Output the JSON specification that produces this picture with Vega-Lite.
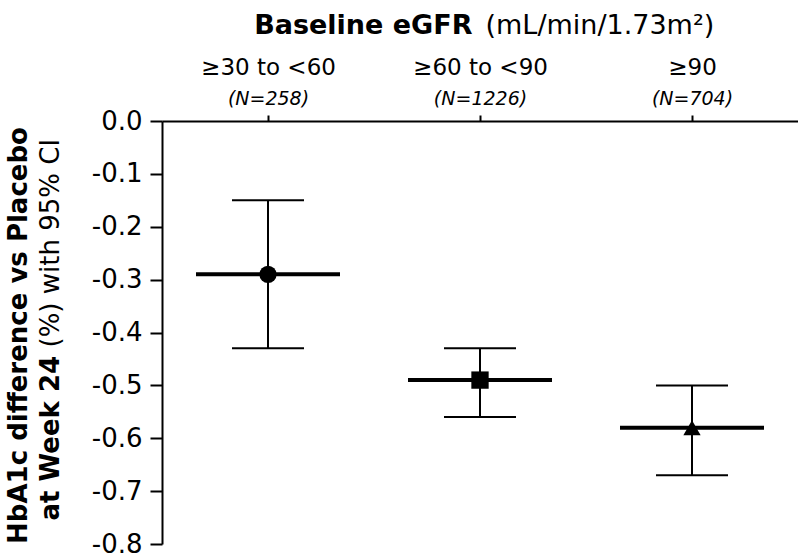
{
  "$schema": "https://vega.github.io/schema/vega-lite/v6.json",
  "width": 636,
  "height": 423,
  "autosize": {"type": "none"},
  "padding": {"left": 162, "top": 121, "right": 0, "bottom": 13},
  "background": "white",
  "config": {
    "font": "DejaVu Sans",
    "view": {"stroke": null},
    "axis": {"grid": false, "labelColor": "black", "titleColor": "black", "domainColor": "black", "tickColor": "black"}
  },
  "data": {
    "values": [
      {"group": "≥30 to <60", "n": 258, "diff": -0.29, "lo": -0.43, "hi": -0.15},
      {"group": "≥60 to <90", "n": 1226, "diff": -0.49, "lo": -0.56, "hi": -0.43},
      {"group": "≥90", "n": 704, "diff": -0.58, "lo": -0.67, "hi": -0.50}
    ]
  },
  "resolve": {"axis": {"x": "independent", "y": "independent"}},
  "layer": [
    {
      "mark": {"type": "rule", "color": "black", "strokeWidth": 2},
      "encoding": {
        "x": {
          "field": "group", "type": "nominal", "sort": null,
          "scale": {"type": "point", "padding": 0.5},
          "axis": {
            "orient": "top", "labelAngle": 0, "labelFontSize": 23, "labelBaseline": "alphabetic",
            "labelPadding": 41, "tickSize": 6, "tickWidth": 2, "domainWidth": 2,
            "title": "Baseline eGFR", "titleFontSize": 27, "titleFontWeight": "bold",
            "titleX": 310, "titleY": -88, "titleAlign": "right", "titleBaseline": "alphabetic", "titleAngle": 0
          }
        },
        "y": {
          "field": "lo", "type": "quantitative",
          "scale": {"domain": [-0.8, 0], "nice": false, "zero": false},
          "axis": {
            "orient": "left", "values": [0, -0.1, -0.2, -0.3, -0.4, -0.5, -0.6, -0.7, -0.8],
            "format": ".1f", "labelExpr": "replace(datum.label, '−', '-')",
            "labelFontSize": 26, "labelPadding": 8, "labelOverlap": false, "labelFlush": false,
            "tickSize": 12, "tickWidth": 2, "domainWidth": 2,
            "title": "HbA1c difference vs Placebo", "titleFontSize": 26, "titleFontWeight": "bold",
            "titleX": -136, "titleY": 214, "titleAngle": 270, "titleAlign": "center", "titleBaseline": "alphabetic"
          }
        },
        "y2": {"field": "hi"}
      }
    },
    {
      "mark": {"type": "tick", "orient": "horizontal", "color": "black", "size": 144, "thickness": 4, "opacity": 1},
      "encoding": {
        "x": {
          "field": "group", "type": "nominal", "sort": null,
          "axis": {
            "orient": "top", "labelAngle": 0, "labelFontSize": 19, "labelFontStyle": "italic",
            "labelBaseline": "alphabetic", "labelPadding": 17, "ticks": false, "tickSize": 0, "domain": false,
            "labelExpr": "datum.value == '≥30 to <60' ? '(N=258)' : datum.value == '≥60 to <90' ? '(N=1226)' : '(N=704)'",
            "title": "(mL/min/1.73m²)", "titleFontSize": 27, "titleFontWeight": "normal",
            "titleX": 323, "titleY": -88, "titleAlign": "left", "titleBaseline": "alphabetic", "titleAngle": 0
          }
        },
        "y": {
          "field": "diff", "type": "quantitative",
          "axis": {
            "orient": "left", "labels": false, "ticks": false, "domain": false,
            "title": "at Week 24", "titleFontSize": 26, "titleFontWeight": "bold",
            "titleX": -104, "titleY": 399, "titleAngle": 270, "titleAlign": "left", "titleBaseline": "alphabetic"
          }
        }
      }
    },
    {
      "mark": {"type": "tick", "orient": "horizontal", "color": "black", "size": 72, "thickness": 2, "opacity": 1},
      "encoding": {
        "x": {"field": "group", "type": "nominal", "sort": null, "axis": null},
        "y": {
          "field": "lo", "type": "quantitative",
          "axis": {
            "orient": "left", "labels": false, "ticks": false, "domain": false,
            "title": "(%) with 95% CI", "titleFontSize": 26, "titleFontWeight": "normal",
            "titleX": -104, "titleY": 226, "titleAngle": 270, "titleAlign": "left", "titleBaseline": "alphabetic"
          }
        }
      }
    },
    {
      "mark": {"type": "tick", "orient": "horizontal", "color": "black", "size": 72, "thickness": 2, "opacity": 1},
      "encoding": {
        "x": {"field": "group", "type": "nominal", "sort": null, "axis": null},
        "y": {"field": "hi", "type": "quantitative", "axis": null}
      }
    },
    {
      "mark": {"type": "point", "filled": true, "size": 300, "color": "black", "opacity": 1},
      "encoding": {
        "x": {"field": "group", "type": "nominal", "sort": null, "axis": null},
        "y": {"field": "diff", "type": "quantitative", "axis": null},
        "shape": {
          "field": "group", "type": "nominal", "sort": null,
          "scale": {"range": ["circle", "square", "triangle-up"]},
          "legend": null
        }
      }
    }
  ]
}
